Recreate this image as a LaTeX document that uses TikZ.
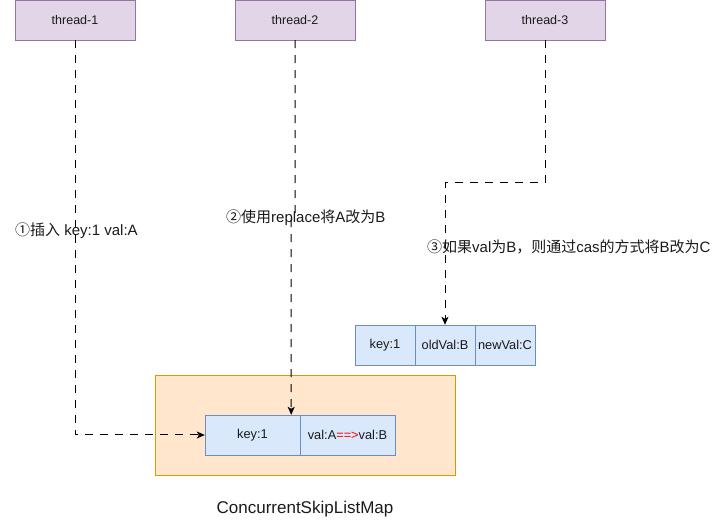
\documentclass[tikz,border=0pt]{standalone}
\usepackage{fontspec}
\setmainfont{Liberation Sans}
\newfontfamily\cjk{Noto Sans CJK SC}
\usetikzlibrary{arrows.meta}
\definecolor{thfill}{HTML}{E1D5E7}
\definecolor{thdraw}{HTML}{9673A6}
\definecolor{bfill}{HTML}{DAE8FC}
\definecolor{bdraw}{HTML}{6C8EBF}
\definecolor{ofill}{HTML}{FFE6CC}
\definecolor{odraw}{HTML}{D79B00}
\definecolor{txt}{HTML}{1A1A1A}
\tikzset{
  threadbox/.style={draw=thdraw, fill=thfill, minimum width=120pt, minimum height=40pt, inner sep=0pt, font=\fontsize{12.5}{14}\selectfont, text=txt},
  cellbox/.style={draw=bdraw, fill=bfill, minimum height=40pt, inner sep=0pt, font=\fontsize{12.8}{14}\selectfont, text=txt},
  mapbox/.style={draw=odraw, fill=ofill, minimum width=300pt, minimum height=100pt, inner sep=0pt},
  lbl/.style={anchor=west, inner sep=0pt, font=\fontsize{15}{17}\selectfont, text=txt},
  dl/.style={draw=black, line width=1pt, dash pattern=on 8pt off 7pt, -{Stealth[length=8pt,width=7pt,inset=2pt]}},
}
\begin{document}
\begin{tikzpicture}[x=1pt,y=-1pt]
\useasboundingbox (0,0) rectangle (726,526);
\node[threadbox] (t1) at (75,20) {thread-1};
\node[threadbox] (t2) at (295,20) {thread-2};
\node[threadbox] (t3) at (545,20) {thread-3};
\node[mapbox] (map) at (305,425) {};
\node[cellbox, minimum width=95pt] (k1) at (252.5,435) {key:1};
\node[cellbox, minimum width=95pt] (v1) at (347.5,435) {val:A{\color{red}==>}val:B};
\node[cellbox, minimum width=60pt] (k2) at (385,345) {key:1};
\node[cellbox, minimum width=60pt] (o2) at (445,345) {oldVal:B};
\node[cellbox, minimum width=60pt] (n2) at (505,345) {newVal:C};
\node[anchor=center, inner sep=0pt, font=\fontsize{17}{20}\selectfont, text=txt] (title) at (305,509) {ConcurrentSkipListMap};
\draw[dl] (t1.south) |- (k1.west);
\draw[dl] (t2.south) -- (295,214) -- (291,221) -- ([xshift=-9pt]k1.north east);
\draw[dl] (t3.south) -- (545,183) -- (445,183) -- (o2.north);
\node[lbl] (l1) at (15,231) {{\cjk ①插入} key:1 val:A};
\node[lbl] (l2) at (226,218) {{\cjk ②使用}replace{\cjk 将}A{\cjk 改为}B};
\node[lbl] (l3) at (427,247) {{\cjk ③如果}val{\cjk 为}B{\cjk ，则通过}cas{\cjk 的方式将}B{\cjk 改为}C};
\end{tikzpicture}
\end{document}
